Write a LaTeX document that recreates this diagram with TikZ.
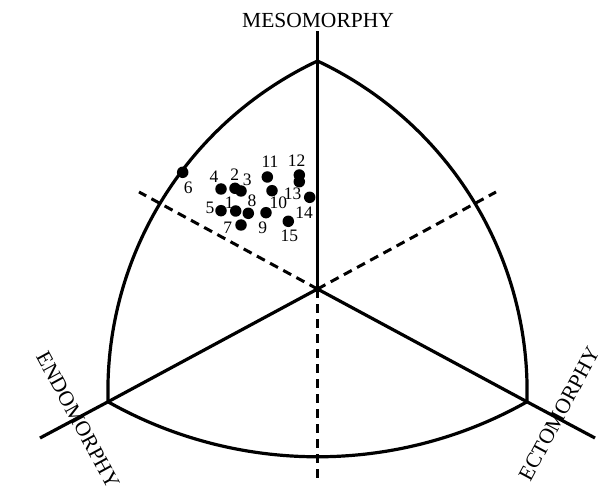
\documentclass[tikz,border=0pt]{standalone}
\usepackage{fontspec}
\setmainfont{Liberation Serif}
\begin{document}
\begin{tikzpicture}[x=1pt,y=1pt,
  solidline/.style={line width=3.2pt},
  dashline/.style={line width=3pt,dash pattern=on 9pt off 6pt},
  dot/.style={circle,fill=black,inner sep=0pt,minimum size=11.5pt},
  lab/.style={inner sep=0pt,font=\fontsize{17.5}{19}\selectfont},
  axislab/.style={inner sep=0pt,font=\fontsize{21.5}{24}\selectfont}]
\useasboundingbox (0,0) rectangle (612,501);
% key points
\coordinate (T) at (317.5,440);
\coordinate (O) at (317.5,212);
\coordinate (L) at (108,99.2);
\coordinate (R) at (527,99.2);
\coordinate (Mend) at (317.5,470);
\coordinate (Lend) at (40,63);
\coordinate (Rend) at (595,63);
\coordinate (Dbot) at (317.5,21);
\coordinate (Dleft) at (139,309);
\coordinate (Dright) at (496,309);
% arcs
\draw[solidline] (T) arc[start angle=115.2,end angle=181.7,radius=365];
\draw[solidline] (T) arc[start angle=64.8,end angle=-1.7,radius=365];
\draw[solidline] (L) arc[start angle=240.58,end angle=299.42,radius=426.5];
% axes
\draw[solidline] (O) -- (Mend);
\draw[solidline] (O) -- (L) -- (Lend);
\draw[solidline] (O) -- (R) -- (Rend);
\draw[dashline] (O) -- (Dbot);
\draw[dashline] (O) -- (Dleft);
\draw[dashline] (O) -- (Dright);
% axis labels
\node[axislab] (meso) at (318,481) {MESOMORPHY};
\node[axislab,rotate=-61.5] (endo) at (78,81) {ENDOMORPHY};
\node[axislab,rotate=61.8] (ecto) at (559,87) {ECTOMORPHY};
% dots
\node[dot] (d6) at (182.7,328.7) {};
\node[dot] (d4) at (221,312) {};
\node[dot] (d2) at (235,312.7) {};
\node[dot] (d3) at (241,310) {};
\node[dot] (d11) at (267.3,324) {};
\node[dot] (d12) at (299.3,326) {};
\node[dot] (d13) at (299.3,319.3) {};
\node[dot] (d10) at (272,310.3) {};
\node[dot] (d14) at (309.7,303.7) {};
\node[dot] (d5) at (221,290.3) {};
\node[dot] (d1) at (235.7,290) {};
\node[dot] (d8) at (248.3,287.7) {};
\node[dot] (d9) at (266,288.3) {};
\node[dot] (d7) at (241,276) {};
\node[dot] (d15) at (288.3,279.7) {};
% labels
\node[lab] (l6) at (188.3,313.3) {6};
\node[lab] (l4) at (214,324.3) {4};
\node[lab] (l2) at (234.7,326.7) {2};
\node[lab] (l3) at (247.3,321) {3};
\node[lab] (l11) at (270,339.3) {11};
\node[lab] (l12) at (296.7,340.3) {12};
\node[lab] (l13) at (292.7,307.7) {13};
\node[lab] (l10) at (278.3,298.7) {10};
\node[lab] (l14) at (304,288.3) {14};
\node[lab] (l5) at (210,292.7) {5};
\node[lab] (l1) at (229.3,298.7) {1};
\node[lab] (l8) at (252,300) {8};
\node[lab] (l9) at (262.7,273.7) {9};
\node[lab] (l7) at (227.7,273.3) {7};
\node[lab] (l15) at (289.3,265.3) {15};
\end{tikzpicture}
\end{document}
